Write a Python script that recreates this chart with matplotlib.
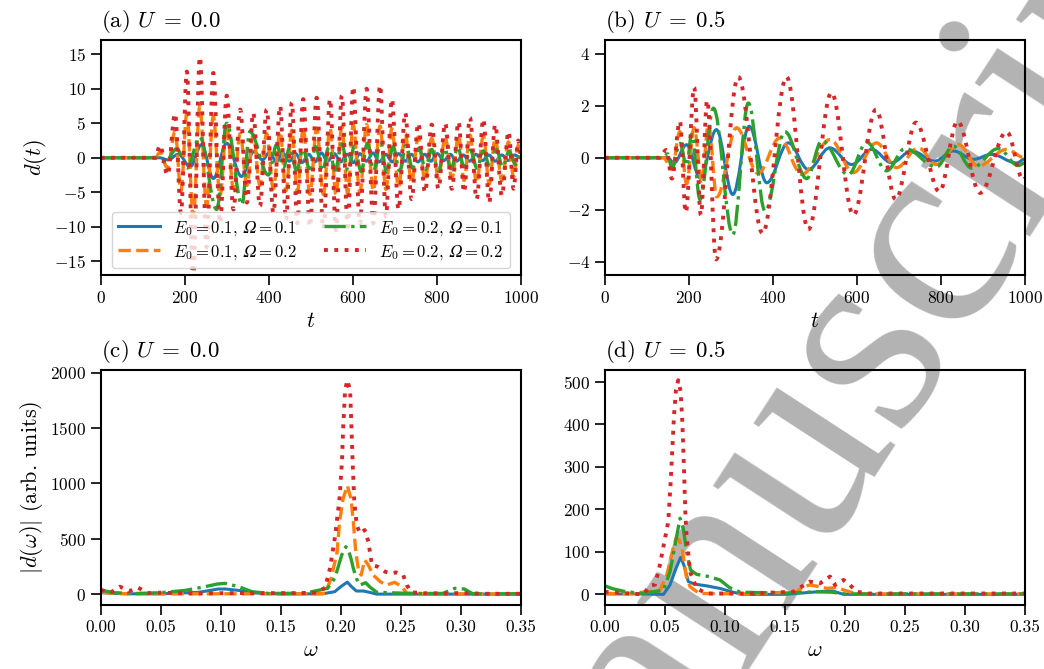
import matplotlib
matplotlib.use("Agg")
import matplotlib.pyplot as plt
from matplotlib.path import Path
from matplotlib.patches import PathPatch
from matplotlib.lines import Line2D

plt.rcParams.update({
    "font.family": "serif",
    "font.serif": ["cmr10"],
    "mathtext.fontset": "cm",
    "axes.formatter.use_mathtext": True,
    "axes.unicode_minus": True,
})

# ---------------- d(t), U = 0.0 (turning points) ----------------
t_a_fast = [0, 130, 141, 159, 177, 191, 205, 220, 236, 252, 268, 284, 300, 316, 332, 348, 363, 379,
            395, 411, 427, 441, 455, 468, 482, 498, 514, 530, 546, 560, 574, 588, 601, 617, 633, 649,
            665, 679, 693, 709, 725, 740, 756, 772, 788, 804, 820, 836, 852, 865, 879, 895, 911, 925,
            939, 955, 971, 983, 994, 1000]
d_a_red = [0, 0, 1.8, -2.5, 6.4, -8.0, 12.5, -17.5, 14.6, -13.0, 12.3, -9.5, 9.0, -7.5, 7.0, -6.5,
           6.5, -7.0, 7.0, -8.0, 7.5, -9.0, 8.0, -9.5, 8.5, -10.0, 8.7, -10.3, 8.5, -10.5, 9.0, -10.0,
           10.3, -9.5, 10.0, -9.5, 10.5, -8.5, 8.5, -7.5, 6.5, -6.0, 5.0, -5.0, 4.8, -4.5, 5.0, -4.5,
           5.2, -5.0, 5.8, -6.0, 5.6, -6.5, 4.8, -5.5, 3.8, -4.5, 2.5, 0.5]
d_a_orange = [0, 0, 0.8, -1.5, 3.8, -4.8, 6.5, -8.5, 7.5, -7.0, 6.0, -5.5, 4.5, -4.5, 3.5, -4.0,
              3.3, -4.0, 3.5, -4.5, 3.8, -4.8, 4.0, -5.0, 4.2, -5.3, 4.3, -5.3, 4.3, -5.3, 4.5, -5.2,
              4.8, -5.0, 4.8, -4.8, 4.6, -4.6, 4.2, -4.2, 3.5, -3.6, 3.0, -3.2, 2.8, -3.0, 3.0, -3.0,
              3.2, -3.3, 3.3, -3.6, 3.2, -3.8, 2.8, -3.3, 2.3, -2.8, 1.8, 0.3]

t_a_green = [0, 130, 153, 181, 205, 236, 276, 300, 336, 355, 399, 419, 435, 450, 466, 482, 497, 512,
             528, 543, 558, 574, 589, 604, 620, 635, 650, 666, 681, 696, 712, 727, 742, 758, 773,
             788, 804, 819, 834, 850, 865, 880, 896, 911, 926, 942, 957, 972, 988, 1000]
d_a_green = [0, 0, -0.6, 1.3, -1.5, 3.0, -7.5, 5.0, -6.8, 3.8, -2.5, 1.9, -1.4, 1.5, -1.8, 1.2,
             -1.6, 1.6, -1.9, 1.5, -1.8, 2.0, -1.9, 1.7, -2.0, 2.1, -1.8, 2.0, -2.1, 1.6, -1.9, 1.8,
             -1.5, 1.4, -1.7, 1.2, -1.9, 1.3, -1.6, 1.5, -1.3, 1.1, -1.5, 1.0, -1.2, 1.2, -1.3, 0.9,
             -1.0, 0.5]

t_a_blue = [0, 140, 160, 185, 213, 240, 268, 300, 335, 365, 385, 402, 418, 433, 449, 464, 479, 495,
            510, 525, 540, 556, 571, 587, 602, 617, 633, 648, 663, 679, 694, 709, 725, 740, 755, 771,
            786, 801, 817, 832, 847, 863, 878, 893, 909, 924, 939, 955, 970, 985, 1000]
d_a_blue = [0, 0, -0.3, 0.5, -1.3, 1.9, -3.0, 2.1, -2.7, 0.9, -0.3, 0.8, -0.6, 0.7, -0.5, 0.6, -0.7,
            0.5, -0.6, 0.7, -0.5, 0.6, -0.6, 0.5, -0.7, 0.6, -0.5, 0.7, -0.6, 0.5, -0.6, 0.6, -0.5,
            0.5, -0.6, 0.5, -0.5, 0.6, -0.4, 0.5, -0.5, 0.4, -0.5, 0.5, -0.4, 0.4, -0.5, 0.4, -0.4,
            0.4, 0.0]

# ---------------- d(t), U = 0.5 (turning points) ----------------
t_b_red = [0, 130, 147, 160, 179, 193, 213, 229, 244, 265, 318, 376, 433, 485, 540, 592, 646, 693,
           741, 797, 840, 894, 957, 997, 1000]
d_b_red = [0, 0, 0.3, -0.8, 1.4, -2.1, 2.7, -2.2, 2.2, -3.9, 3.1, -2.9, 3.1, -2.75, 2.5, -2.2, 1.85,
           -1.6, 1.35, -1.3, 1.4, -1.35, 1.0, -0.85, -0.8]
t_b_green = [0, 140, 150, 160, 179, 195, 207, 227, 259, 305, 342, 382, 429, 481, 517, 580, 624, 671,
             715, 790, 830, 874, 937, 985, 1000]
d_b_green = [0, 0, 0.15, -0.4, 0.55, -0.3, 0.9, -1.6, 1.9, -2.95, 2.1, -2.05, 1.0, -0.8, 0.65,
             -0.65, 0.6, -0.5, 0.35, -0.35, 0.45, -0.4, 0.35, -0.3, -0.2]
t_b_blue = [0, 150, 165, 195, 227, 266, 305, 344, 386, 437, 485, 536, 588, 636, 683, 731, 786, 830,
            878, 921, 981, 1000]
d_b_blue = [0, 0, -0.2, 0.5, -0.77, 1.08, -1.41, 1.21, -0.96, 0.57, -0.45, 0.38, -0.26, 0.32, -0.19,
            0.26, -0.13, 0.26, -0.06, 0.13, -0.2, -0.05]
t_b_orange = [0, 140, 160, 179, 195, 213, 231, 247, 267, 314, 365, 417, 469, 537, 592, 647, 695, 747,
              790, 842, 889, 957, 1000]
d_b_orange = [0, 0, -0.45, 1.0, -1.0, 1.15, -0.9, 1.27, -1.5, 1.15, -0.6, 0.76, -0.64, 0.7, -0.57,
              0.57, -0.38, 0.38, -0.26, 0.51, -0.32, 0.32, 0.0]

# ---------------- |d(w)|, U = 0.0 ----------------
w_c_red = [0, 0.008, 0.016, 0.024, 0.031, 0.040, 0.050, 0.08, 0.12, 0.16, 0.180, 0.187, 0.191, 0.195,
           0.199, 0.201, 0.202, 0.2036, 0.2055, 0.2078, 0.209, 0.210, 0.2113, 0.2133, 0.216, 0.220,
           0.223, 0.226, 0.231, 0.237, 0.242, 0.246, 0.252, 0.255, 0.259, 0.27, 0.29, 0.30, 0.32, 0.35]
a_c_red = [40, 15, 69, 30, 60, 10, 15, 8, 12, 10, 15, 60, 233, 503, 865, 1196, 1496, 1842, 1931, 1842,
           1481, 1166, 835, 625, 550, 580, 475, 264, 249, 204, 189, 198, 174, 84, 18, 10, 8, 12, 5, 5]
w_c_orange = [0, 0.01, 0.03, 0.06, 0.10, 0.14, 0.18, 0.187, 0.192, 0.197, 0.199, 0.202, 0.2055,
              0.2085, 0.2105, 0.2125, 0.215, 0.217, 0.220, 0.223, 0.227, 0.233, 0.238, 0.245, 0.251,
              0.255, 0.27, 0.30, 0.35]
a_c_orange = [20, 8, 5, 4, 5, 4, 6, 9, 144, 384, 655, 865, 980, 865, 655, 384, 204, 174, 309, 264,
              174, 114, 84, 108, 69, 9, 5, 4, 3]
w_c_green = [0, 0.01, 0.03, 0.05, 0.07, 0.087, 0.097, 0.1036, 0.115, 0.126, 0.14, 0.17, 0.189, 0.195,
             0.2008, 0.2042, 0.206, 0.2085, 0.2105, 0.213, 0.216, 0.2208, 0.224, 0.230, 0.26, 0.285,
             0.295, 0.303, 0.31, 0.35]
a_c_green = [40, 15, 8, 15, 35, 69, 93, 99, 69, 24, 8, 10, 54, 144, 354, 429, 414, 324, 234, 144, 84,
             105, 69, 18, 8, 8, 54, 48, 5, 5]
w_c_blue = [0, 0.02, 0.05, 0.0815, 0.098, 0.104, 0.117, 0.129, 0.15, 0.185, 0.195, 0.200, 0.2055,
            0.209, 0.213, 0.219, 0.224, 0.230, 0.26, 0.35]
a_c_blue = [15, 5, 5, 18, 48, 48, 33, 12, 3, 5, 24, 69, 110, 69, 30, 30, 18, 2, 2, 2]

# ---------------- |d(w)|, U = 0.5 ----------------
w_d_red = [0, 0.01, 0.032, 0.0378, 0.042, 0.046, 0.050, 0.053, 0.055, 0.0564, 0.0578, 0.0594, 0.0613,
           0.0633, 0.0647, 0.066, 0.0672, 0.068, 0.0711, 0.0767, 0.085, 0.12, 0.157, 0.164, 0.171,
           0.1794, 0.1878, 0.192, 0.199, 0.2044, 0.21, 0.22, 0.35]
a_d_red = [6, 4, 0, 20, 23, 69, 128, 171, 265, 343, 422, 481, 504, 477, 406, 304, 194, 147, 53, 14, 2,
           2, 6, 18, 30, 26, 42, 22, 34, 22, 6, 2, 2]
w_d_orange = [0, 0.02, 0.046, 0.0517, 0.0558, 0.0594, 0.0622, 0.065, 0.0678, 0.0711, 0.079, 0.12,
              0.16, 0.1656, 0.171, 0.1794, 0.185, 0.193, 0.2017, 0.21, 0.35]
a_d_orange = [2, 2, 9, 45, 93, 132, 128, 100, 45, 18, 2, 1, 6, 18, 22, 18, 14, 16, 8, 1, 1]
w_d_green = [0, 0.007, 0.018, 0.032, 0.049, 0.0544, 0.0586, 0.0628, 0.0655, 0.0683, 0.0716, 0.0767,
             0.085, 0.096, 0.104, 0.113, 0.15, 0.177, 0.19, 0.20, 0.35]
a_d_green = [20, 13, 6, 2, 10, 53, 116, 179, 155, 100, 57, 47, 43, 34, 16, 5, 3, 6, 5, 1, 1]
w_d_blue = [0, 0.03, 0.049, 0.0544, 0.0594, 0.0633, 0.066, 0.0697, 0.075, 0.085, 0.096, 0.107,
            0.1155, 0.15, 0.177, 0.19, 0.199, 0.35]
a_d_blue = [1, 1, 0, 22, 61, 87, 69, 30, 24, 20, 14, 5, 0, 0, 6, 8, 0, 0]

labels = [r"$E_0 = 0.1$, $𝛺 = 0.1$",
          r"$E_0 = 0.1$, $𝛺 = 0.2$",
          r"$E_0 = 0.2$, $𝛺 = 0.1$",
          r"$E_0 = 0.2$, $𝛺 = 0.2$"]
colors = ["#1f77b4", "#ff7f0e", "#2ca02c", "#d62728"]
styles = ["-", "--", "-.", ":"]
widths = [2.2, 2.4, 2.4, 2.8]


def turning_point_path(x, y, k=0.364):
    # cubic segments with flat tangents at each turning point
    verts = [(x[0], y[0])]
    codes = [Path.MOVETO]
    for i in range(len(x) - 1):
        dx = x[i + 1] - x[i]
        verts += [(x[i] + k * dx, y[i]), (x[i + 1] - k * dx, y[i + 1]), (x[i + 1], y[i + 1])]
        codes += [Path.CURVE4] * 3
    return Path(verts, codes)


fig = plt.figure(figsize=(10.44, 6.69), dpi=100)

# grey watermark behind everything
fig.text(0.511, -0.48, "Manuscript", family="Liberation Serif", fontsize=205,
         color="#b3b3b3", rotation=57, rotation_mode="anchor", ha="left", va="baseline",
         zorder=-5)

ax_a = fig.add_axes([0.0965, 0.5889, 0.4023, 0.3506])
ax_b = fig.add_axes([0.5792, 0.5889, 0.4023, 0.3506])
ax_c = fig.add_axes([0.0965, 0.0957, 0.4023, 0.3506])
ax_d = fig.add_axes([0.5792, 0.0957, 0.4023, 0.3506])

time_panels = [
    (ax_a, [(t_a_blue, d_a_blue), (t_a_fast, d_a_orange), (t_a_green, d_a_green), (t_a_fast, d_a_red)]),
    (ax_b, [(t_b_blue, d_b_blue), (t_b_orange, d_b_orange), (t_b_green, d_b_green), (t_b_red, d_b_red)]),
]
freq_panels = [
    (ax_c, [(w_c_blue, a_c_blue), (w_c_orange, a_c_orange), (w_c_green, a_c_green), (w_c_red, a_c_red)]),
    (ax_d, [(w_d_blue, a_d_blue), (w_d_orange, a_d_orange), (w_d_green, a_d_green), (w_d_red, a_d_red)]),
]

for ax, series in time_panels:
    for (x, y), c, ls, lw in zip(series, colors, styles, widths):
        ax.add_patch(PathPatch(turning_point_path(x, y), fill=False, edgecolor=c,
                               linestyle=ls, lw=lw, capstyle="butt", joinstyle="round"))

for ax, series in freq_panels:
    for (x, y), c, ls, lw in zip(series, colors, styles, widths):
        ax.plot(x, y, ls=ls, color=c, lw=lw)

for ax in (ax_a, ax_b, ax_c, ax_d):
    ax.set_facecolor("none")
    for s in ax.spines.values():
        s.set_linewidth(1.5)
    ax.tick_params(direction="out", length=7, width=1.2, labelsize=12.5)

ax_a.set_xlim(0, 1000)
ax_b.set_xlim(0, 1000)
ax_a.set_ylim(-17, 17)
ax_b.set_ylim(-4.5, 4.5)
ax_a.set_yticks([-15, -10, -5, 0, 5, 10, 15])
ax_b.set_yticks([-4, -2, 0, 2, 4])
for ax in (ax_a, ax_b):
    ax.set_xticks([0, 200, 400, 600, 800, 1000])
    ax.set_xlabel(r"$t$", fontsize=16)

ax_c.set_xlim(0, 0.35)
ax_d.set_xlim(0, 0.35)
ax_c.set_ylim(-96, 2020)
ax_d.set_ylim(-25, 527)
ax_c.set_yticks([0, 500, 1000, 1500, 2000])
ax_d.set_yticks([0, 100, 200, 300, 400, 500])
for ax in (ax_c, ax_d):
    ax.set_xticks([0, 0.05, 0.10, 0.15, 0.20, 0.25, 0.30, 0.35])
    ax.set_xticklabels(["0.00", "0.05", "0.10", "0.15", "0.20", "0.25", "0.30", "0.35"])
    ax.set_xlabel(r"$\omega$", fontsize=16)

ax_a.set_ylabel(r"$d(t)$", fontsize=16)
ax_c.set_ylabel(r"$|d(\omega)|$ (arb. units)", fontsize=16)

for ax, title in zip((ax_a, ax_b, ax_c, ax_d),
                     [r"(a) $U\;=\;0.0$", r"(b) $U\;=\;0.5$", r"(c) $U\;=\;0.0$", r"(d) $U\;=\;0.5$"]):
    ax.set_title(title, loc="left", fontsize=16.5, pad=10)

handles = [Line2D([], [], color=c, ls=ls, lw=lw) for c, ls, lw in zip(colors, styles, widths)]
ax_a.legend(handles, labels, loc="lower center", ncol=2, fontsize=12, handlelength=2.5,
            columnspacing=1.6, borderaxespad=0.4, labelspacing=0.3)

fig.savefig("out.png", dpi=100)
